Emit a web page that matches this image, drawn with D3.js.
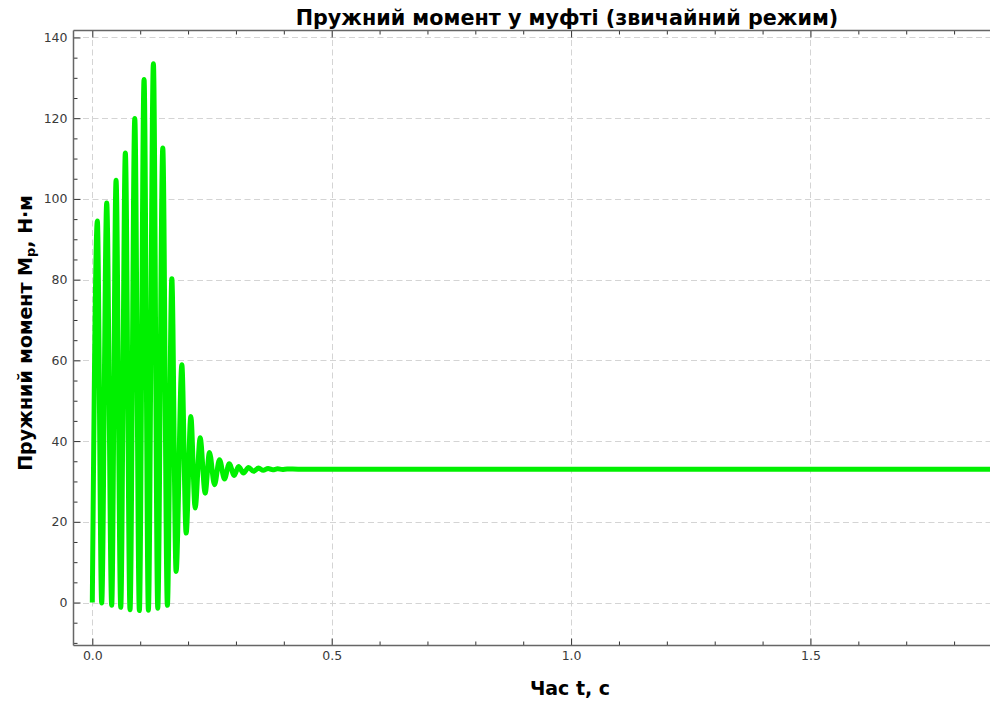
<!DOCTYPE html>
<html>
<head>
<meta charset="utf-8">
<script src="https://cdn.jsdelivr.net/npm/d3@7"></script>
<style>
  html, body { margin: 0; padding: 0; background: #ffffff; }
  svg { display: block; font-family: "DejaVu Sans", sans-serif; }
</style>
</head>
<body>
<svg id="chart" width="994" height="706"></svg>
<script>
// Spring torque in the coupling, normal mode: successive peaks and troughs
// of the transient, then the settled level.
const timeS = [
  0.0000, 0.0105, 0.0196, 0.0301, 0.0405, 0.0496, 0.0594, 0.0690, 0.0788, 0.0887,
  0.0983, 0.1081, 0.1171, 0.1276, 0.1367, 0.1472, 0.1568, 0.1661, 0.1750, 0.1870,
  0.1960, 0.2058, 0.2148, 0.2253, 0.2357, 0.2447, 0.2552, 0.2656, 0.2761, 0.2859,
  0.2964, 0.3054, 0.3158, 0.3263, 0.3367, 0.3472, 0.3570, 0.3670, 0.3770, 0.3870,
  0.3970, 0.4070, 0.4300, 0.6000, 1.0000, 1.5000, 2.0000
];
const torqueNm = [
  0.0, 94.5, -0.1, 99.0, -0.7, 104.6, -1.2, 111.4, -1.8, 119.9,
  -2.0, 129.6, -1.9, 133.5, -1.4, 112.6, -0.7, 80.2, 7.7, 58.9,
  17.2, 46.1, 23.4, 40.8, 27.1, 37.2, 29.2, 35.4, 30.6, 34.4,
  31.5, 33.7, 32.1, 33.45, 32.5, 33.3, 32.75, 33.2, 32.9, 33.12,
  32.98, 33.08, 33.05, 33.05, 33.05, 33.05, 33.05
];

const xMajorTicks = [0.0, 0.5, 1.0, 1.5];
const xTickLabels = ["0.0", "0.5", "1.0", "1.5"];
const xMinorTicks = [0.1, 0.2, 0.3, 0.4, 0.6, 0.7, 0.8, 0.9, 1.1, 1.2, 1.3, 1.4, 1.6, 1.7, 1.8];
const yMajorTicks = [0, 20, 40, 60, 80, 100, 120, 140];
const yTickLabels = ["0", "20", "40", "60", "80", "100", "120", "140"];
const yMinorTicks = [-10, -5, 5, 10, 15, 25, 30, 35, 45, 50, 55, 65, 70, 75, 85, 90, 95, 105, 110, 115, 125, 130, 135];

const titleText = "Пружний момент у муфті (звичайний режим)";
const xLabelText = "Час t, с";

const svg = d3.select("#chart");
const plotLeft = 73.5, plotRight = 990, plotTop = 30.5, plotBottom = 645.5;

const x = d3.scaleLinear().domain([-0.0393, 1.875]).range([plotLeft, plotRight]);
const y = d3.scaleLinear().domain([-10.65, 141.73]).range([plotBottom, plotTop]);

// grid
const grid = svg.append("g").attr("stroke", "#d4d4d4").attr("stroke-width", 1)
  .attr("stroke-dasharray", "6,3.5");
grid.selectAll("line.gx").data(xMajorTicks).join("line").attr("class", "gx")
  .attr("x1", d => Math.round(x(d)) + 0.5).attr("x2", d => Math.round(x(d)) + 0.5)
  .attr("y1", plotTop).attr("y2", plotBottom);
grid.selectAll("line.gy").data(yMajorTicks).join("line").attr("class", "gy")
  .attr("x1", plotLeft).attr("x2", plotRight)
  .attr("y1", d => Math.round(y(d)) + 0.5).attr("y2", d => Math.round(y(d)) + 0.5);

// data line
svg.append("clipPath").attr("id", "plotClip").append("rect")
  .attr("x", plotLeft).attr("y", plotTop).attr("width", plotRight - plotLeft).attr("height", plotBottom - plotTop);

const pts = timeS.map((t, i) => [t, torqueNm[i]]);
const line = d3.line().x(d => x(d[0])).y(d => y(d[1])).curve(d3.curveMonotoneX);
svg.append("path").datum(pts)
  .attr("clip-path", "url(#plotClip)")
  .attr("fill", "none").attr("stroke", "#00f000").attr("stroke-width", 5)
  .attr("stroke-linejoin", "round")
  .attr("d", line);

// axes (ticks point inward)
const tickColor = "#333";
const labelColor = "#3a3a3a";

function styleAxis(g) {
  g.select(".domain").remove();
  g.selectAll(".tick line").attr("stroke", tickColor).attr("stroke-width", 1);
  g.selectAll(".tick text").attr("fill", labelColor).attr("font-size", 12.5)
    .attr("font-family", "DejaVu Sans, sans-serif");
}

const xAxis = d3.axisBottom(x).tickValues(xMajorTicks)
  .tickFormat((d, i) => xTickLabels[i]).tickSizeInner(-7).tickSizeOuter(0).tickPadding(6);
svg.append("g").attr("transform", `translate(0,${plotBottom})`).call(xAxis).call(styleAxis);
svg.append("g").attr("transform", `translate(0,${plotBottom})`)
  .call(d3.axisBottom(x).tickValues(xMinorTicks).tickFormat("").tickSizeInner(-4).tickSizeOuter(0))
  .call(styleAxis);

// mirrored ticks on the top spine
svg.append("g").attr("transform", `translate(0,${plotTop})`)
  .call(d3.axisTop(x).tickValues(xMajorTicks).tickFormat("").tickSizeInner(-7).tickSizeOuter(0))
  .call(styleAxis);
svg.append("g").attr("transform", `translate(0,${plotTop})`)
  .call(d3.axisTop(x).tickValues(xMinorTicks).tickFormat("").tickSizeInner(-4).tickSizeOuter(0))
  .call(styleAxis);

const yAxis = d3.axisLeft(y).tickValues(yMajorTicks)
  .tickFormat((d, i) => yTickLabels[i]).tickSizeInner(-7).tickSizeOuter(0).tickPadding(6);
svg.append("g").attr("transform", `translate(${plotLeft},0)`).call(yAxis).call(styleAxis);
svg.append("g").attr("transform", `translate(${plotLeft},0)`)
  .call(d3.axisLeft(y).tickValues(yMinorTicks).tickFormat("").tickSizeInner(-4).tickSizeOuter(0))
  .call(styleAxis);

// spines: left, bottom, top
const spine = svg.append("g").attr("stroke", "#666").attr("stroke-width", 1.5).attr("fill", "none");
spine.append("line").attr("x1", plotLeft).attr("x2", plotLeft).attr("y1", plotTop).attr("y2", plotBottom);
spine.append("line").attr("x1", plotLeft).attr("x2", plotRight).attr("y1", plotBottom).attr("y2", plotBottom);
spine.append("line").attr("x1", plotLeft).attr("x2", plotRight).attr("y1", plotTop).attr("y2", plotTop);

// title and axis labels
svg.append("text").attr("x", 567).attr("y", 25).attr("text-anchor", "middle")
  .attr("font-size", 20.7).attr("font-weight", "bold").attr("fill", "#000").text(titleText);

svg.append("text").attr("x", 570).attr("y", 695).attr("text-anchor", "middle")
  .attr("font-size", 19).attr("font-weight", "bold").attr("fill", "#000").text(xLabelText);

const yl = svg.append("text").attr("transform", "translate(32,333) rotate(-90)")
  .attr("text-anchor", "middle").attr("font-size", 19).attr("font-weight", "bold").attr("fill", "#000");
yl.append("tspan").text("Пружний момент M");
yl.append("tspan").attr("font-size", 13).attr("dy", 3).text("p");
yl.append("tspan").attr("dy", -3).text(", Н·м");
</script>
</body>
</html>
